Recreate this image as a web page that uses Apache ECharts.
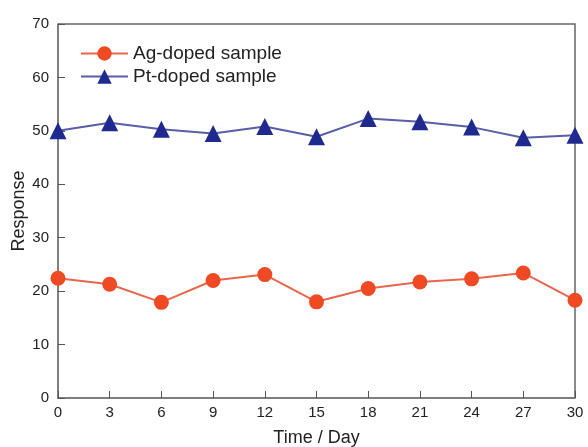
<!DOCTYPE html>
<html>
<head>
<meta charset="utf-8">
<script src="https://cdn.jsdelivr.net/npm/echarts@6/dist/echarts.min.js"></script>
<style>
  html, body { margin: 0; padding: 0; background: #fff; }
  #main { width: 588px; height: 447px; }
</style>
</head>
<body>
<div id="main"></div>
<script>
var days = [0, 3, 6, 9, 12, 15, 18, 21, 24, 27, 30];
var agDoped = [22.4, 21.3, 17.9, 22.0, 23.1, 18.0, 20.5, 21.7, 22.3, 23.4, 18.3];
var ptDoped = [50.0, 51.5, 50.3, 49.5, 50.8, 48.9, 52.3, 51.7, 50.7, 48.7, 49.2];

function pairs(ys) {
  return days.map(function (d, i) { return [d, ys[i]]; });
}

var chart = echarts.init(document.getElementById('main'));
var font = 'Liberation Sans, Arial';

chart.setOption({
  animation: false,
  grid: { left: 58, right: 13, top: 24, bottom: 49, containLabel: false, outerBoundsMode: 'none' },
  legend: {
    left: 75, top: 39, orient: 'vertical',
    itemWidth: 47, itemHeight: 18, itemGap: 4,
    textStyle: { fontSize: 19, color: '#222', fontFamily: font },
    data: ['Ag-doped sample', 'Pt-doped sample']
  },
  xAxis: {
    type: 'value', min: 0, max: 30, interval: 3,
    name: 'Time / Day', nameLocation: 'middle', nameGap: 31, nameMoveOverlap: false,
    nameTextStyle: { fontSize: 18, color: '#222', fontFamily: font },
    axisLine: { lineStyle: { color: '#555', width: 1.5 } },
    axisTick: { inside: true, length: 7, lineStyle: { color: '#555' } },
    axisLabel: { color: '#222', fontSize: 15, fontFamily: font, margin: 7 },
    splitLine: { show: false }
  },
  yAxis: {
    type: 'value', min: 0, max: 70, interval: 10,
    name: 'Response', nameLocation: 'middle', nameGap: 30, nameMoveOverlap: false,
    nameTextStyle: { fontSize: 18, color: '#222', fontFamily: font },
    axisLine: { show: true, lineStyle: { color: '#555', width: 1.5 } },
    axisTick: { show: true, inside: true, length: 7, lineStyle: { color: '#555' } },
    axisLabel: { color: '#222', fontSize: 15, fontFamily: font, margin: 9 },
    splitLine: { show: false }
  },
  graphic: [{
    type: 'polyline', silent: true,
    shape: { points: [[58, 24], [575, 24], [575, 398]] },
    style: { stroke: '#666', lineWidth: 1.5, fill: null }
  }],
  series: [{
    name: 'Ag-doped sample', type: 'line', data: pairs(agDoped),
    symbol: 'circle', symbolSize: 15,
    itemStyle: { color: '#f04a24' },
    lineStyle: { color: '#e8664e', width: 2 }
  }, {
    name: 'Pt-doped sample', type: 'line', data: pairs(ptDoped),
    symbol: 'triangle', symbolSize: 17,
    itemStyle: { color: '#1f2a8e' },
    lineStyle: { color: '#5a5ea6', width: 2 }
  }]
});
</script>
</body>
</html>
